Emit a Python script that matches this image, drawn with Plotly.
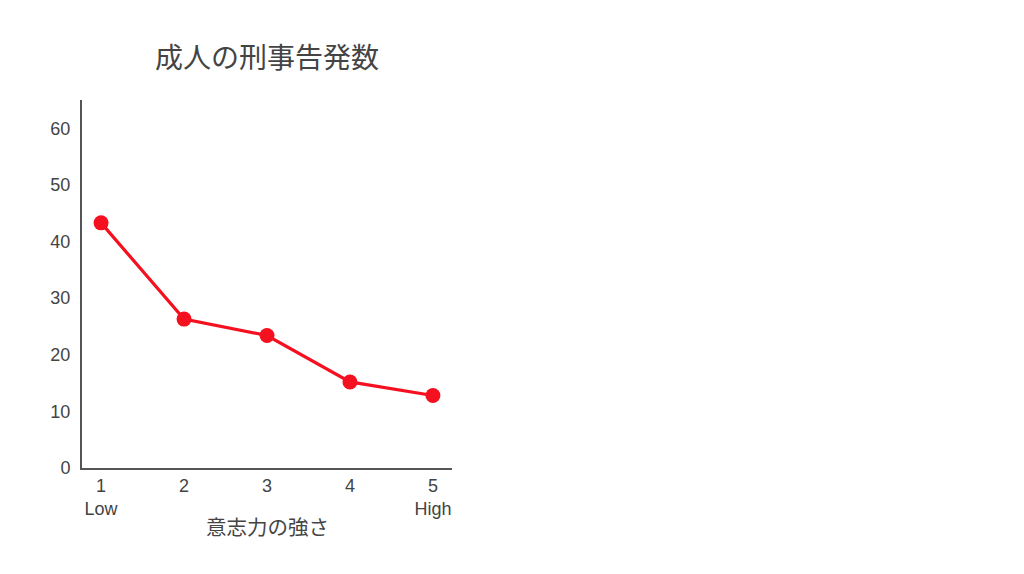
import plotly.graph_objects as go

x_vals = [1, 2, 3, 4, 5]
y_vals = [43.3, 26.3, 23.4, 15.2, 12.8]
tick_text = ["1<br>Low", "2<br> ", "3<br> ", "4<br> ", "5<br>High"]
title_text = "成人の刑事告発数"
x_title = "意志力の強さ"

font_fam = "Liberation Sans, Arial, Noto Sans CJK JP, sans-serif"
cjk_fam = "Noto Sans CJK JP, sans-serif"

fig = go.Figure()
fig.add_trace(go.Scatter(
    x=x_vals, y=y_vals, mode="lines+markers",
    line=dict(color="#F5101F", width=3.2),
    marker=dict(color="#F5101F", size=15),
    showlegend=False,
))

fig.update_layout(
    width=1024, height=574,
    paper_bgcolor="white", plot_bgcolor="white",
    margin=dict(l=74, r=580, t=92, b=114),
    title=dict(text=title_text, x=0.5, xref="paper", xanchor="center",
               y=1 - 50 / 574, yanchor="middle",
               font=dict(family=cjk_fam, size=28, color="#444444")),
    font=dict(family=font_fam, color="#444444", size=18),
)
fig.add_annotation(
    text=x_title, xref="paper", yref="paper", x=0.5, y=0,
    xanchor="center", yanchor="middle", yshift=-58, showarrow=False,
    font=dict(family=cjk_fam, size=20.5, color="#444444"),
)
fig.update_xaxes(
    range=[0.77, 5.23], tickvals=x_vals, ticktext=tick_text,
    showline=True, linecolor="#555555", linewidth=2, showgrid=False,
    zeroline=False, ticks="", tickfont=dict(size=18, color="#444444"),
)
fig.update_yaxes(
    range=[0, 65], tickvals=[0, 10, 20, 30, 40, 50, 60],
    showline=True, linecolor="#555555", linewidth=2, showgrid=False,
    zeroline=False, ticks="outside", ticklen=6, tickcolor="rgba(0,0,0,0)",
    tickfont=dict(size=18, color="#444444"),
)

fig.write_html("out.html")
